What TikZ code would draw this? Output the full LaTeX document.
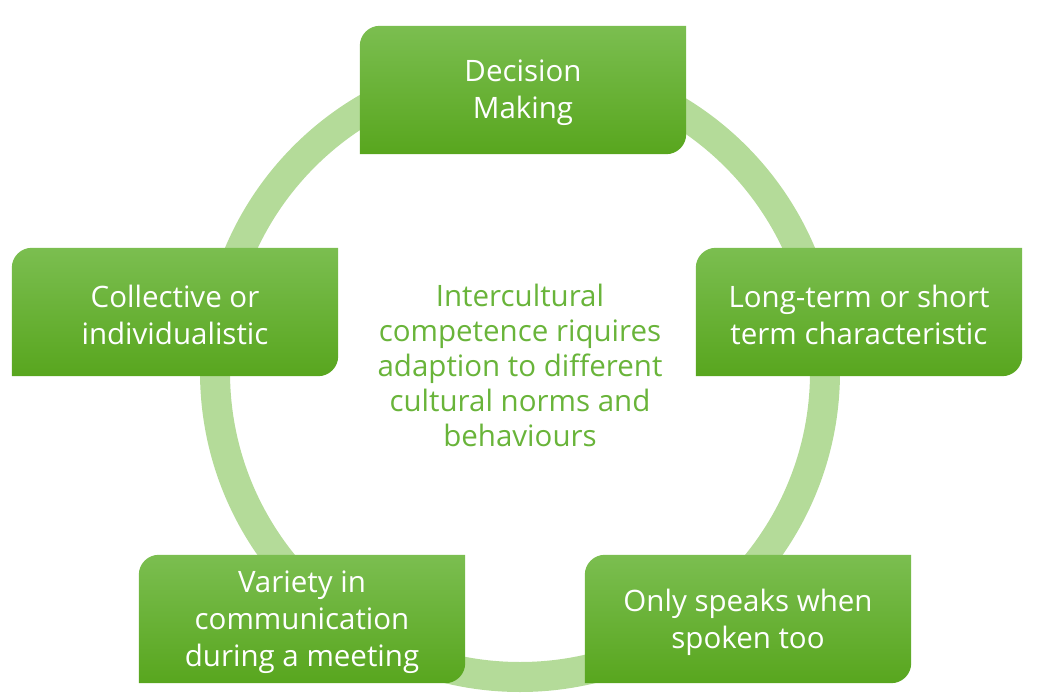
\documentclass[tikz,border=0pt]{standalone}
\usepackage{fontspec}
\setmainfont{Open Sans}
\usepackage{xcolor}
\usetikzlibrary{backgrounds}
\definecolor{ringgreen}{HTML}{B4DB99}
\definecolor{boxtop}{HTML}{7BBE50}
\definecolor{boxmid}{HTML}{63B32A}
\definecolor{boxbot}{HTML}{58A61E}
\definecolor{textgreen}{HTML}{69B43A}
% box outline, lifted 3pt above the text node
\newcommand{\tabpath}[1]{([yshift=3pt]#1.south west) -- ([yshift=-17pt]#1.north west)
  arc[start angle=180, end angle=90, radius=20pt] -- ([yshift=3pt]#1.north east)
  -- ([yshift=23pt]#1.south east) arc[start angle=0, end angle=-90, radius=20pt] -- cycle}

\begin{document}
\begin{tikzpicture}[x=1pt, y=-1pt]
% Styles:
\tikzset{factor/.style={minimum width=326pt, minimum height=128pt, inner sep=0pt,
  align=center, text=white, font=\fontsize{29.5}{37}\selectfont, yshift=-3pt}}
\tikzset{boxshade/.style={top color=boxtop, middle color=boxmid, bottom color=boxbot}}
\useasboundingbox (0,0) rectangle (1049,700);

% Main nodes:
\node[factor] (dec)  at (523,90)  {Decision\\Making};
\node[factor] (coll) at (175,312) {Collective or\\individualistic};
\node[factor] (long) at (859,312) {Long-term or short\\term characteristic};
\node[factor] (var)  at (302,619) {Variety in\\communication\\during a meeting};
\node[factor] (only) at (748,619) {Only speaks when\\spoken too};

% Centre text:
\node[align=center, text=textgreen, font=\fontsize{29.5}{35}\selectfont] (mid) at (520,365)
  {Intercultural\\competence riquires\\adaption to different\\cultural norms and\\behaviours};

% Ring and boxes behind the text:
\begin{scope}[on background layer]
\draw[ringgreen, line width=30pt] (mid.center) ++(0,7) circle[radius=305pt];
\foreach \b in {dec,coll,long,var,only}
  \shade[boxshade] \tabpath{\b};
\end{scope}
\end{tikzpicture}
\end{document}
